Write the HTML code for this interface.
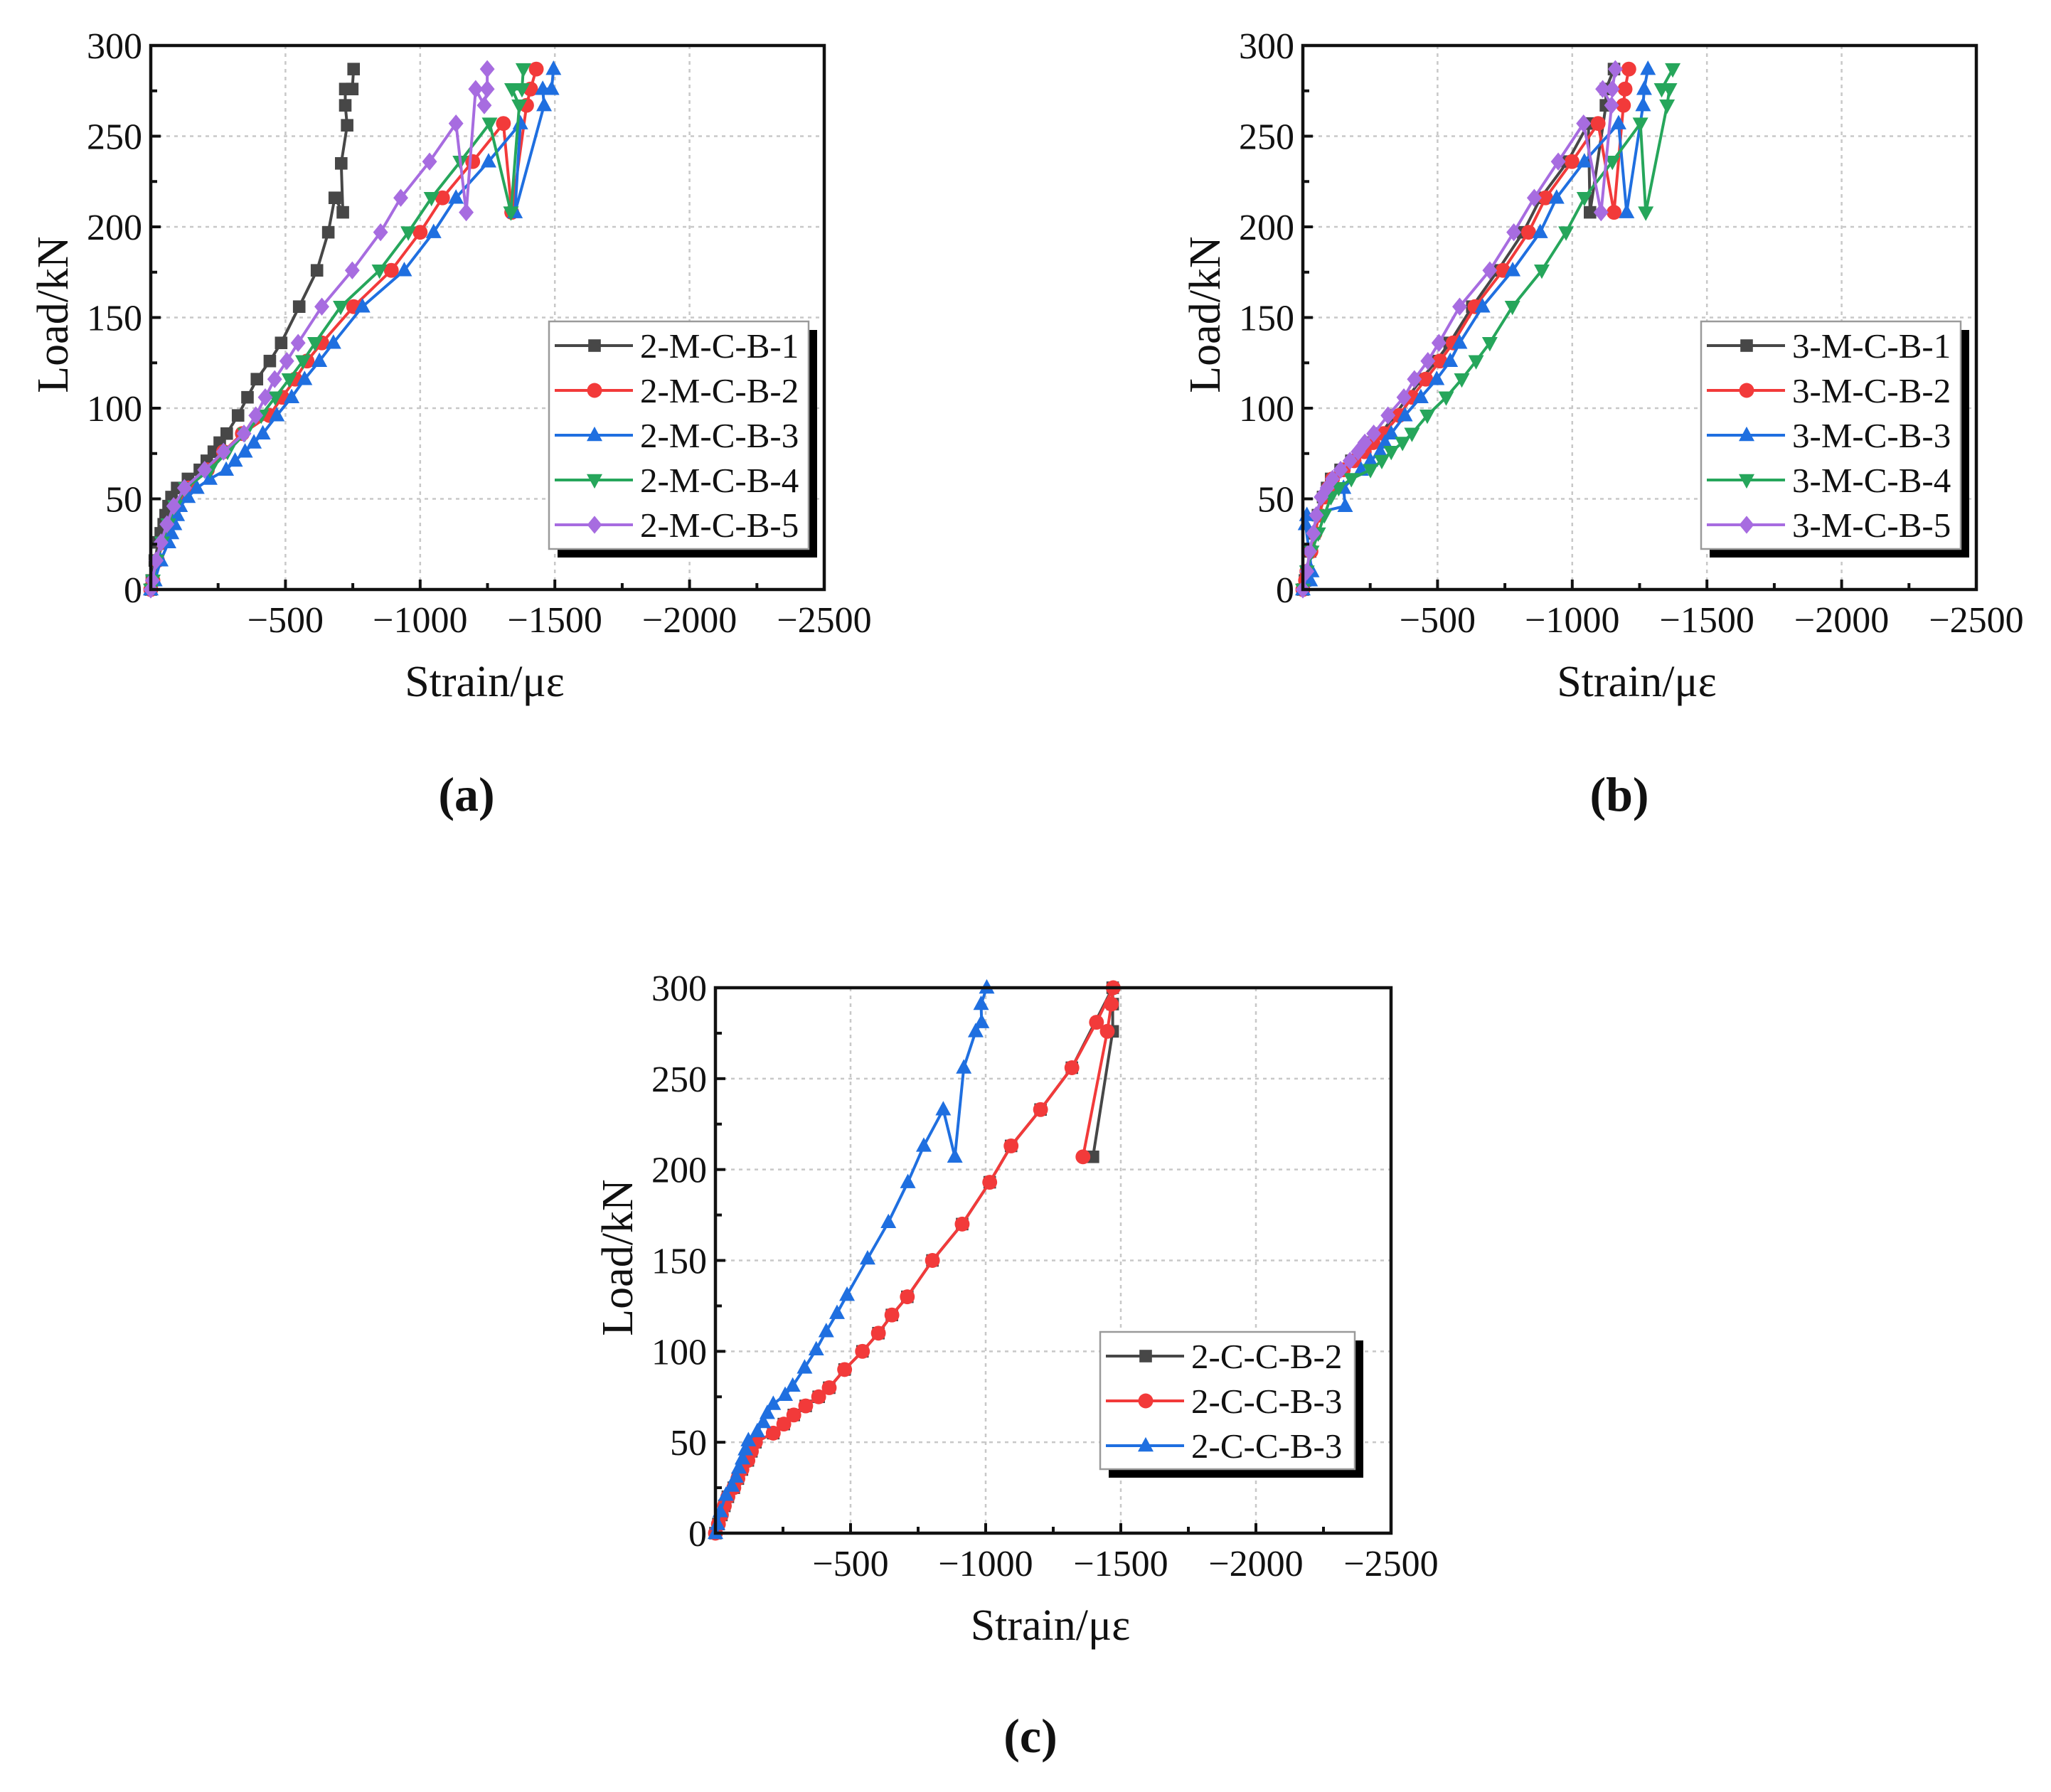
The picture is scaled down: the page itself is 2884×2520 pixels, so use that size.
<!DOCTYPE html>
<html><head><meta charset="utf-8"><style>
html,body{margin:0;padding:0;background:#fff;}
svg{display:block;font-family:"Liberation Serif",serif;}
</style></head><body>
<svg id="fig" width="2884" height="2520" viewBox="0 0 2884 2520" xmlns="http://www.w3.org/2000/svg"></svg>
<script>
// ---------- shared axis data ----------
const xTickValues = [0, -500, -1000, -1500, -2000, -2500];
const xTickLabels = ["", "\u2212500", "\u22121000", "\u22121500", "\u22122000", "\u22122500"];
const yTickValues = [0, 50, 100, 150, 200, 250, 300];
const yTickLabels = ["0", "50", "100", "150", "200", "250", "300"];

// ---------- panel (a) ----------
const aNames = ["2-M-C-B-1","2-M-C-B-2","2-M-C-B-3","2-M-C-B-4","2-M-C-B-5"];
const a1x = [0,-4,-15,-28,-37,-48,-55,-66,-77,-98,-138,-182,-208,-234,-256,-282,-324,-359,-394,-442,-484,-551,-617,-659,-683,-713,-707,-729,-722,-722,-748,-753];
const a1y = [0,5,16,26,31,36,41,46,51,56,61,66,71,76,81,86,96,106,116,126,136,156,176,197,216,208,235,256,267,276,276,287];
const a2x = [0,-8,-25,-45,-70,-95,-140,-210,-270,-340,-440,-488,-536,-580,-635,-753,-893,-1000,-1083,-1195,-1309,-1340,-1395,-1410,-1431];
const a2y = [0,5,16,26,36,46,56,66,76,86,96,106,116,126,136,156,176,197,216,236,257,208,267,276,287];
const a3x = [0,-15,-37,-66,-77,-88,-98,-109,-138,-171,-219,-280,-313,-350,-383,-416,-468,-523,-571,-626,-678,-786,-941,-1050,-1133,-1254,-1372,-1352,-1460,-1455,-1488,-1495];
const a3y = [0,5,16,26,31,36,41,46,51,56,61,66,71,76,81,86,96,106,116,126,136,156,176,197,216,236,257,208,267,276,276,287];
const a4x = [0,-8,-22,-42,-65,-90,-130,-220,-285,-350,-410,-462,-514,-565,-610,-705,-849,-956,-1042,-1149,-1258,-1337,-1368,-1341,-1378,-1383];
const a4y = [0,5,16,26,36,46,56,66,76,86,96,106,116,126,136,156,176,197,216,236,257,208,267,276,276,287];
const a5x = [0,-6,-20,-38,-60,-85,-125,-200,-270,-346,-390,-425,-460,-505,-547,-635,-748,-853,-928,-1035,-1133,-1171,-1206,-1238,-1249,-1249];
const a5y = [0,5,16,26,36,46,56,66,76,86,96,106,116,126,136,156,176,197,216,236,257,208,276,267,276,287];

// ---------- panel (b) ----------
const bNames = ["3-M-C-B-1","3-M-C-B-2","3-M-C-B-3","3-M-C-B-4","3-M-C-B-5"];
const b1x = [0,-8,-13,-27,-42,-56,-75,-90,-105,-140,-180,-220,-250,-290,-340,-390,-440,-495,-545,-629,-724,-818,-883,-983,-1060,-1066,-1125,-1125,-1155];
const b1y = [0,5,10,21,31,41,51,56,61,66,71,76,81,86,96,106,116,126,136,156,176,197,216,236,257,208,267,276,287];
const b2x = [0,-10,-15,-30,-45,-60,-80,-95,-110,-150,-190,-228,-260,-299,-358,-405,-456,-509,-558,-639,-743,-838,-901,-999,-1096,-1155,-1190,-1196,-1210];
const b2y = [0,5,10,21,31,41,51,56,61,66,71,76,81,86,96,106,116,126,136,156,176,197,216,236,257,208,267,276,287];
const b3x = [0,-27,-33,-10,-15,-157,-151,-216,-251,-287,-305,-328,-379,-438,-497,-547,-582,-667,-779,-881,-942,-1045,-1172,-1202,-1263,-1267,-1281];
const b3y = [0,5,10,36,41,46,56,66,71,76,81,86,96,106,116,126,136,156,176,197,216,236,257,208,267,276,287];
const b4x = [0,-15,-33,-57,-80,-104,-133,-180,-251,-293,-328,-370,-405,-462,-532,-590,-643,-694,-778,-887,-977,-1045,-1149,-1253,-1273,-1352,-1361,-1332,-1373];
const b4y = [0,10,21,31,41,51,56,61,66,71,76,81,86,96,106,116,126,136,156,176,197,216,236,257,208,267,276,276,287];
const b5x = [0,-15,-25,-39,-50,-68,-90,-110,-140,-175,-205,-230,-263,-316,-375,-414,-464,-505,-582,-694,-783,-859,-948,-1042,-1107,-1146,-1113,-1149,-1160];
const b5y = [0,10,21,31,41,51,56,61,66,71,76,81,86,96,106,116,126,136,156,176,197,216,236,257,208,267,276,276,287];

// ---------- panel (c) ----------
const cNames = ["2-C-C-B-2","2-C-C-B-3","2-C-C-B-3"];
const c1x = [0,-11,-22,-33,-46,-68,-83,-98,-120,-133,-148,-214,-253,-290,-334,-382,-421,-478,-544,-603,-653,-710,-803,-913,-1015,-1094,-1203,-1319,-1470,-1470,-1470,-1397];
const c1y = [0,5,10,15,20,25,30,35,40,45,50,55,60,65,70,75,80,90,100,110,120,130,150,170,193,213,233,256,300,291,276,207];
const c2x = [0,-11,-22,-33,-46,-68,-83,-98,-120,-133,-148,-214,-253,-290,-334,-382,-421,-478,-544,-603,-653,-710,-803,-913,-1015,-1094,-1203,-1319,-1410,-1472,-1465,-1450,-1360];
const c2y = [0,5,10,15,20,25,30,35,40,45,50,55,60,65,70,75,80,90,100,110,120,130,150,170,193,213,233,256,281,300,291,276,207];
const c3x = [0,-8,-18,-39,-61,-76,-87,-100,-111,-122,-155,-177,-192,-214,-258,-286,-330,-373,-410,-450,-487,-563,-640,-712,-771,-843,-886,-919,-963,-985,-983,-1004];
const c3y = [0,5,12,21,26,31,36,41,46,51,56,61,66,71,76,81,91,101,111,121,131,151,171,193,213,233,207,256,276,281,291,300];

const COLORS = {k:"#474747", r:"#f23a3a", b:"#1f6fe0", g:"#26a65b", p:"#a76ce0"};
const NS = "http://www.w3.org/2000/svg";
const svg = document.getElementById("fig");

function el(tag, attrs, parent){
  const e = document.createElementNS(NS, tag);
  for (const k in attrs) e.setAttribute(k, attrs[k]);
  (parent||svg).appendChild(e);
  return e;
}

function marker(g, type, cx, cy, color, s){
  let m;
  if (type === "square") m = el("rect",{x:cx-s*0.8,y:cy-s*0.8,width:s*1.6,height:s*1.6,fill:color},g);
  else if (type === "circle") m = el("circle",{cx:cx,cy:cy,r:s*0.95,fill:color},g);
  else if (type === "up") m = el("polygon",{points:`${cx},${cy-s*1.1} ${cx-s},${cy+s*0.75} ${cx+s},${cy+s*0.75}`,fill:color},g);
  else if (type === "down") m = el("polygon",{points:`${cx},${cy+s*1.1} ${cx-s},${cy-s*0.75} ${cx+s},${cy-s*0.75}`,fill:color},g);
  else m = el("polygon",{points:`${cx},${cy-s*1.15} ${cx+s*0.95},${cy} ${cx},${cy+s*1.15} ${cx-s*0.95},${cy}`,fill:color},g);
  return m;
}

function panel(p){
  const g = el("g",{});
  
  
  const L=p.L, T=p.T, W=p.W, H=p.H;
  const sx = v => L + (v/-2500)*W;
  const sy = v => T + H - (v/300)*H;
  const grid = el("g",{stroke:"#c8c8c8","stroke-width":2.5,"stroke-dasharray":"5,6"},g);
  
  
  xTickValues.forEach(v=>{ if(v!==0 && v!==-2500) el("line",{x1:sx(v),x2:sx(v),y1:T,y2:T+H},grid); });
  yTickValues.forEach(v=>{ if(v!==0 && v!==300) el("line",{x1:L,x2:L+W,y1:sy(v),y2:sy(v)},grid); });
  p.series.forEach((s,i)=>{
    const sg = el("g",{},g);
    
    
    const pts = s.x.map((v,j)=>sx(v)+","+sy(s.y[j])).join(" ");
    el("polyline",{points:pts,fill:"none",stroke:s.c,"stroke-width":4,"stroke-linejoin":"round"},sg);
    s.x.forEach((v,j)=>{
      const m = marker(sg, s.m, sx(v), sy(s.y[j]), s.c, 11);
      
      
    });
  });
  const fr = el("rect",{x:L,y:T,width:W,height:H,fill:"none",stroke:"#111","stroke-width":4.5},g);
  
  
  const tk = el("g",{stroke:"#111","stroke-width":4},g);
  for(let v=0; v>=-2500; v-=250){ const len = (v%500===0)?14:9; el("line",{x1:sx(v),x2:sx(v),y1:T+H,y2:T+H-len},tk); }
  for(let v=0; v<=300; v+=25){ const len = (v%50===0)?14:9; el("line",{x1:L,x2:L+len,y1:sy(v),y2:sy(v)},tk); }
  const xl = el("g",{"font-size":52,fill:"#111","text-anchor":"middle"},g);
  
  
  xTickValues.forEach((v,i)=>{ const t=el("text",{x:sx(v),y:T+H+60},xl); t.textContent=xTickLabels[i]; });
  const yl = el("g",{"font-size":52,fill:"#111","text-anchor":"end"},g);
  
  
  yTickValues.forEach((v,i)=>{ const t=el("text",{x:L-12,y:sy(v)+18},yl); t.textContent=yTickLabels[i]; });
  const xt = el("text",{x:L+W/2-4,y:T+H+150,"font-size":62,"text-anchor":"middle",fill:"#111"},g);
  xt.textContent = "Strain/\u03bc\u03b5";
  
  
  const yt = el("text",{x:0,y:0,"font-size":62,"text-anchor":"middle",fill:"#111",transform:`translate(${L-117},${T+H/2-4}) rotate(-90)`},g);
  yt.textContent = "Load/kN";
  
  
  const pl = el("text",{x:p.labX,y:p.labY,"font-size":68,"font-weight":"bold","text-anchor":"middle",fill:"#111"},g);
  pl.textContent = p.label;
  
  
  const lg = el("g",{},g);
  
  
  const lx=p.lx, ly=p.ly, lw=p.lw, lh=p.lh;
  el("rect",{x:lx+12,y:ly+12,width:lw,height:lh,fill:"#000"},lg);
  el("rect",{x:lx,y:ly,width:lw,height:lh,fill:"#fff",stroke:"#9a9a9a","stroke-width":2.5},lg);
  p.series.forEach((s,i)=>{
    const y = ly + 34 + i*63;
    const e = el("g",{},lg);
    
    
    el("line",{x1:lx+8,x2:lx+118,y1:y,y2:y,stroke:s.c,"stroke-width":4},e);
    marker(e, s.m, lx+64, y, s.c, 11);
    const t = el("text",{x:lx+128,y:y+17,"font-size":49,fill:"#111"},e);
    t.textContent = s.name;
  });
}

panel({id:"panel-a",label:"(a)",L:212,T:64,W:947,H:765,labX:656,labY:1140,lx:772,ly:452,lw:365,lh:320,series:[
  {name:aNames[0],x:a1x,y:a1y,c:COLORS.k,m:"square"},
  {name:aNames[1],x:a2x,y:a2y,c:COLORS.r,m:"circle"},
  {name:aNames[2],x:a3x,y:a3y,c:COLORS.b,m:"up"},
  {name:aNames[3],x:a4x,y:a4y,c:COLORS.g,m:"down"},
  {name:aNames[4],x:a5x,y:a5y,c:COLORS.p,m:"diamond"}]});
panel({id:"panel-b",label:"(b)",L:1832,T:64,W:947,H:765,labX:2277,labY:1140,lx:2392,ly:452,lw:365,lh:320,series:[
  {name:bNames[0],x:b1x,y:b1y,c:COLORS.k,m:"square"},
  {name:bNames[1],x:b2x,y:b2y,c:COLORS.r,m:"circle"},
  {name:bNames[2],x:b3x,y:b3y,c:COLORS.b,m:"up"},
  {name:bNames[3],x:b4x,y:b4y,c:COLORS.g,m:"down"},
  {name:bNames[4],x:b5x,y:b5y,c:COLORS.p,m:"diamond"}]});
panel({id:"panel-c",label:"(c)",L:1006,T:1389,W:950,H:767,labX:1449,labY:2464,lx:1547,ly:1873,lw:358,lh:193,series:[
  {name:cNames[0],x:c1x,y:c1y,c:COLORS.k,m:"square"},
  {name:cNames[1],x:c2x,y:c2y,c:COLORS.r,m:"circle"},
  {name:cNames[2],x:c3x,y:c3y,c:COLORS.b,m:"up"}]});
</script>
</body></html>
